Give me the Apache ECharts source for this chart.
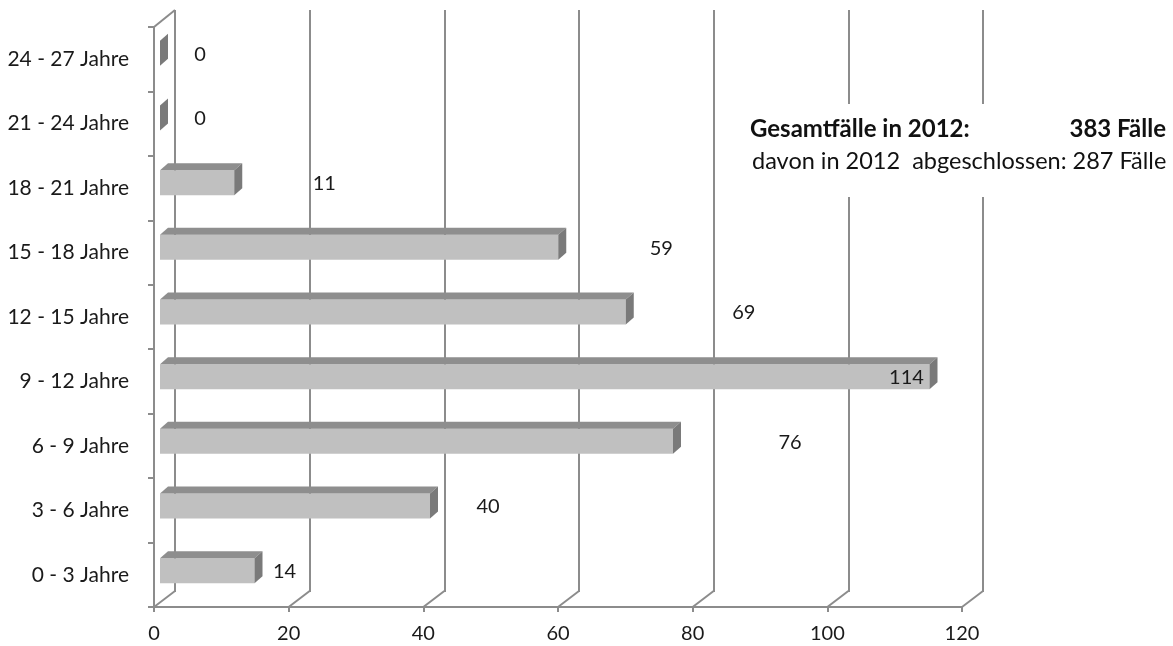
<!DOCTYPE html>
<html>
<head>
<meta charset="utf-8">
<script src="https://cdn.jsdelivr.net/npm/echarts@6/dist/echarts.min.js"></script>
<style>
html,body{margin:0;padding:0;background:#fff;}
#chart{width:1173px;height:646px;}
</style>
</head>
<body>
<div id="chart"></div>
<script>
// ---- data ----
const categories = ['0 - 3 Jahre','3 - 6 Jahre','6 - 9 Jahre','9 - 12 Jahre','12 - 15 Jahre','15 - 18 Jahre','18 - 21 Jahre','21 - 24 Jahre','24 - 27 Jahre'];
const cases = [14, 40, 76, 114, 69, 59, 11, 0, 0];
const xTicks = [0, 20, 40, 60, 80, 100, 120];
const totalLabel = 'Gesamtfälle in 2012:';
const totalCases = 383;
const closedLabel = 'davon in 2012  abgeschlossen:';
const closedCases = 287;

// ---- layout / style (not data) ----
const labelDx = [30, 58, 117, -23, 118, 103, 90, 40, 40]; // label offset from bar end (px), Excel 3D placement
const FONT = 'Lato';
const GRID_COLOR = '#8c8c8c';
const TEXT_COLOR = '#1a1a1a';
const depthX = 21, depthY = -16;

const chart = echarts.init(document.getElementById('chart'));

function bar3d(params, api) {
  const i = api.value(0);
  const v = api.value(1);
  const start = api.coord([0, i]);
  const end = api.coord([v, i]);
  const band = api.size([0, 1])[1];
  const h = band * 0.387;
  const dx = 8, dy = 7;
  const x0 = start[0], x1 = end[0], yc = start[1];
  const yt = yc - h / 2, yb = yc + h / 2;
  const children = [];
  if (x1 > x0) {
    children.push({type:'rect', shape:{x:x0, y:yt, width:x1-x0, height:h}, style:{fill:'#c0c0c0'}});
    children.push({type:'polygon', shape:{points:[[x0,yt],[x1,yt],[x1+dx,yt-dy],[x0+dx,yt-dy]]}, style:{fill:'#8e8e8e'}});
  }
  children.push({type:'polygon', shape:{points:[[x1,yt],[x1+dx,yt-dy],[x1+dx,yb-dy],[x1,yb]]}, style:{fill:'#7a7a7a'}});
  children.push({type:'text', x: x1 + labelDx[i], y: yc + 1,
    style:{text:String(v), fill:TEXT_COLOR, font:'20px ' + FONT, align:'center', verticalAlign:'middle'}});
  return {type:'group', children};
}

function floorLines(params, api) {
  const v = api.value(0);
  const cs = params.coordSys;
  const p = api.coord([v, 0]);
  const yb = cs.y + cs.height;
  const children = [{type:'line', shape:{x1:p[0], y1:yb, x2:p[0]+depthX, y2:yb+depthY},
    style:{stroke:GRID_COLOR, lineWidth:2}}];
  if (v === 0) {
    children.push({type:'line', shape:{x1:cs.x, y1:cs.y, x2:cs.x+depthX, y2:cs.y-17},
      style:{stroke:GRID_COLOR, lineWidth:2}});
  }
  return {type:'group', children};
}

const option = {
  backgroundColor:'#ffffff',
  animation:false,
  grid:[
    {left:175, width:808, top:10, height:582, outerBoundsMode:'none'},   // back wall
    {left:154, width:808, top:27, height:580, outerBoundsMode:'none'},   // front axes
    {left:160, width:810, top:21, height:582, outerBoundsMode:'none'}    // bars
  ],
  xAxis:[
    {gridIndex:0, type:'value', min:0, max:120, interval:20,
     axisLine:{show:false}, axisTick:{show:false}, axisLabel:{show:false},
     splitLine:{show:true, lineStyle:{color:GRID_COLOR, width:2}}},
    {gridIndex:1, type:'value', min:0, max:120, interval:20,
     axisLine:{show:true, lineStyle:{color:GRID_COLOR, width:2}},
     axisTick:{show:true, length:5, lineStyle:{color:GRID_COLOR, width:2}},
     axisLabel:{show:true, margin:17, color:TEXT_COLOR, fontSize:20, fontFamily:FONT,
       formatter:(val)=> xTicks.includes(val) ? String(val) : ''},
     splitLine:{show:false}},
    {gridIndex:2, type:'value', min:0, max:120, show:false}
  ],
  yAxis:[
    {gridIndex:0, type:'category', data:categories, show:false},
    {gridIndex:1, type:'category', data:categories,
     axisLine:{show:true, lineStyle:{color:GRID_COLOR, width:2}},
     axisTick:{show:true, length:6, lineStyle:{color:GRID_COLOR, width:2}},
     axisLabel:{show:true, margin:25, color:TEXT_COLOR, fontSize:21, fontFamily:FONT, padding:[6,0,0,0]},
     splitLine:{show:false}},
    {gridIndex:2, type:'category', data:categories, show:false}
  ],
  series:[
    {type:'custom', xAxisIndex:1, yAxisIndex:1, renderItem:floorLines,
     data:xTicks.map(t=>[t]), silent:true, z:1},
    {type:'custom', xAxisIndex:2, yAxisIndex:2, renderItem:bar3d,
     data:cases.map((v,i)=>[i, v]), encode:{x:1, y:0}, z:3}
  ],
  graphic:[
    {type:'rect', left:742, top:104, shape:{width:431, height:93}, style:{fill:'#ffffff'}, z:10},
    {type:'text', x:750, y:129, style:{text:totalLabel, font:'bold 24px ' + FONT, fill:'#111', verticalAlign:'middle'}, z:11},
    {type:'text', x:1166, y:129, style:{text:totalCases + ' Fälle', font:'bold 24px ' + FONT, fill:'#111', align:'right', verticalAlign:'middle'}, z:11},
    {type:'text', x:752, y:161, style:{text:closedLabel + ' ' + closedCases + ' Fälle', font:'23.5px ' + FONT, fill:'#111', verticalAlign:'middle'}, z:11}
  ]
};
chart.setOption(option);
</script>
</body>
</html>
